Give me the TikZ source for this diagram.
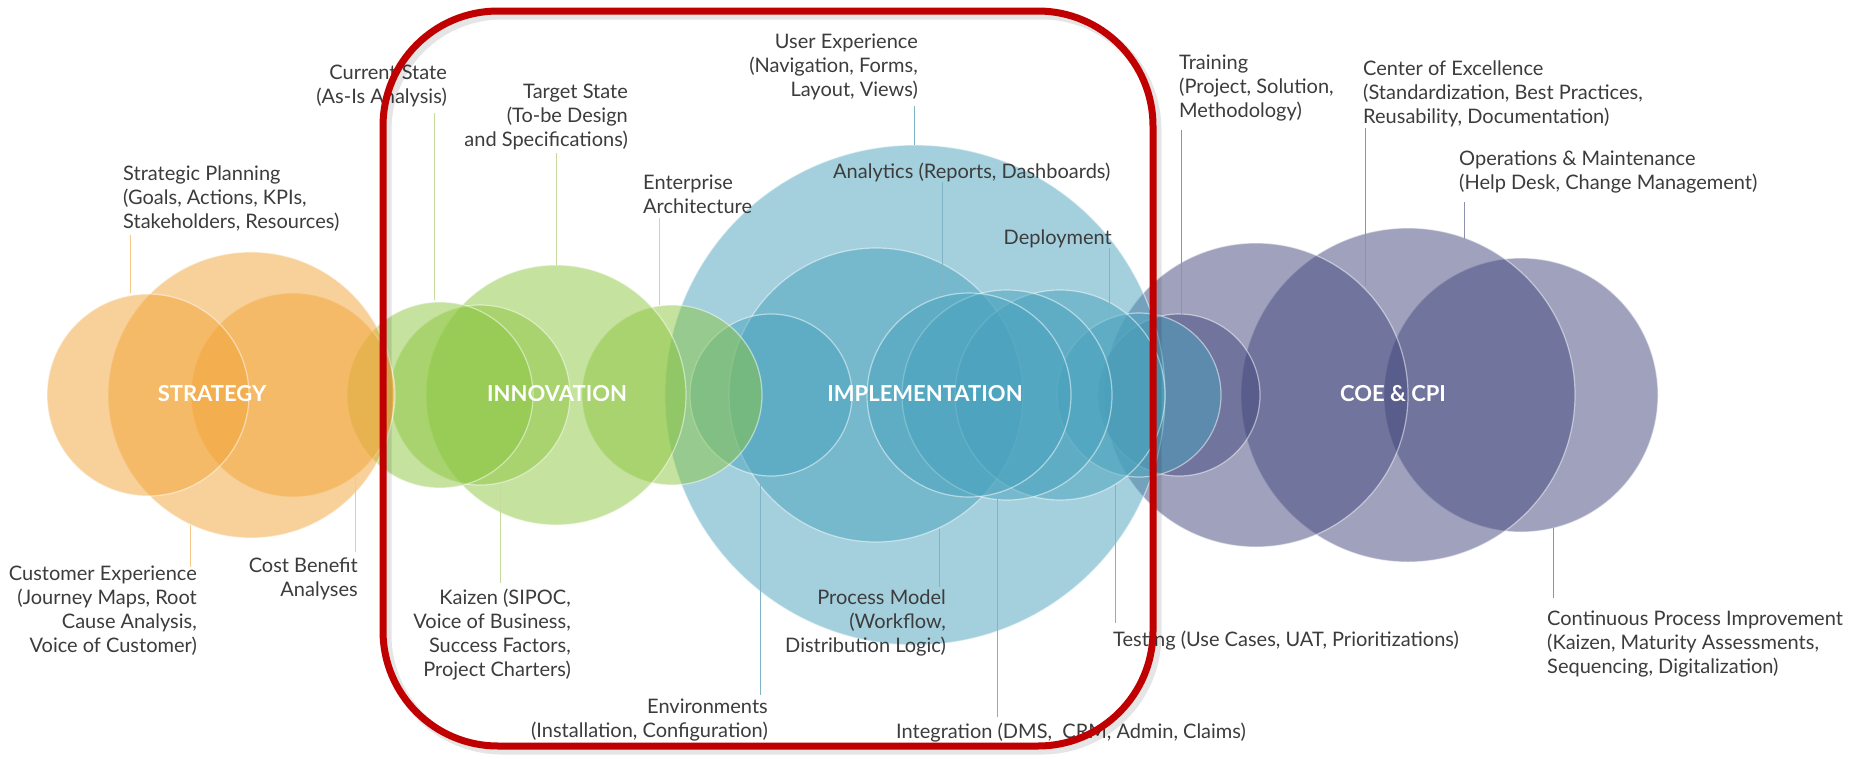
\documentclass[tikz,border=0pt]{standalone}
\usepackage{fontspec}
\setmainfont{Lato}
\definecolor{orng}{HTML}{F3A537}
\definecolor{grn}{HTML}{8CC63F}
\definecolor{blu}{HTML}{4AA3BE}
\definecolor{prp}{HTML}{43477D}
\definecolor{redbox}{HTML}{C00000}
\definecolor{txt}{HTML}{3C3C3C}
\definecolor{lorng}{HTML}{F6C98A}
\definecolor{lgrn}{HTML}{C5DB9E}
\definecolor{lblu}{HTML}{7FB3C6}
\definecolor{lprp}{HTML}{8E90AD}
\begin{document}
\begin{tikzpicture}[x=1pt,y=-1pt,
  bubble/.style={fill opacity=0.5, draw=white, draw opacity=0.5, line width=1.2pt},
  lbl/.style={font=\fontsize{20}{24}\selectfont, text=txt, inner sep=0pt},
  phase/.style={font=\fontsize{22}{26}\selectfont\bfseries, text=white, inner sep=0pt},
  lead/.style={line width=1pt}]
\useasboundingbox[fill=white] (0,0) rectangle (1854,758);
% purple group
\path[bubble, fill=prp] (1521,395) circle[radius=137pt];
\path[bubble, fill=prp] (1408,395) circle[radius=167pt];
\path[bubble, fill=prp] (1256,395) circle[radius=152pt];
\path[bubble, fill=prp] (1179,395) circle[radius=81pt];
% blue group
\path[bubble, fill=blu] (915,395) circle[radius=250pt];
\path[bubble, fill=blu] (876,395) circle[radius=147pt];
\path[bubble, fill=blu] (1139,395) circle[radius=82pt];
\path[bubble, fill=blu] (1060,395) circle[radius=105pt];
\path[bubble, fill=blu] (1007,395) circle[radius=105pt];
\path[bubble, fill=blu] (969,395) circle[radius=102pt];
\path[bubble, fill=blu] (771,395) circle[radius=81pt];
% green group
\path[bubble, fill=grn] (672,395) circle[radius=90pt];
\path[bubble, fill=grn] (556,395) circle[radius=130pt];
\path[bubble, fill=grn] (480,395) circle[radius=90pt];
\path[bubble, fill=grn] (440,395) circle[radius=93pt];
% orange group
\path[bubble, fill=orng] (293,395) circle[radius=102pt];
\path[bubble, fill=orng] (251,395) circle[radius=143pt];
\path[bubble, fill=orng] (148,395) circle[radius=101pt];
% phase labels
\node[phase] (strat) at (212,394) {STRATEGY};
\node[phase] (innov) at (557,394) {INNOVATION};
\node[phase] (impl) at (925,394) {IMPLEMENTATION};
\node[phase] (coe) at (1393,394) {COE \& CPI};
% labels
\node[lbl, anchor=north west, align=left] (sp) at (123,166) {Strategic Planning\\(Goals, Actions, KPIs,\\Stakeholders, Resources)};
\node[lbl, anchor=north east, align=right] (cs) at (447,65) {Current State\\(As-Is Analysis)};
\node[lbl, anchor=north east, align=right] (ts) at (628,84) {Target State\\(To-be Design\\and Specifications)};
\node[lbl, anchor=north west, align=left] (ea) at (643,175) {Enterprise\\Architecture};
\node[lbl, anchor=north east, align=right] (ux) at (918,34) {User Experience\\(Navigation, Forms,\\Layout, Views)};
\node[lbl, anchor=north west] (an) at (833,163) {Analytics (Reports, Dashboards)};
\node[lbl, anchor=north east] (dp) at (1112,230) {Deployment};
\node[lbl, anchor=north west, align=left] (tr) at (1179,55) {Training\\(Project, Solution,\\Methodology)};
\node[lbl, anchor=north west, align=left] (ce) at (1363,61) {Center of Excellence\\(Standardization, Best Practices,\\Reusability, Documentation)};
\node[lbl, anchor=north west, align=left] (om) at (1459,151) {Operations \& Maintenance\\(Help Desk, Change Management)};
\node[lbl, anchor=north east, align=right] (cx) at (197,566) {Customer Experience\\(Journey Maps, Root\\Cause Analysis,\\Voice of Customer)};
\node[lbl, anchor=north east, align=right] (cb) at (358,558) {Cost Benefit\\Analyses};
\node[lbl, anchor=north east, align=right] (kz) at (571,589) {Kaizen (SIPOC,\\Voice of Business,\\Success Factors,\\Project Charters)};
\node[lbl, anchor=north east, align=right] (en) at (768,699) {Environments\\(Installation, Configuration)};
\node[lbl, anchor=north east, align=right] (pm) at (946,590) {Process Model\\(Workflow,\\Distribution Logic)};
\node[lbl, anchor=north west] (ig) at (896,723) {Integration (DMS,\ \ CRM, Admin, Claims)};
\node[lbl, anchor=north west] (te) at (1113,631) {Testing (Use Cases, UAT, Prioritizations)};
\node[lbl, anchor=north west, align=left] (cp) at (1547,611) {Continuous Process Improvement\\(Kaizen, Maturity Assessments,\\Sequencing, Digitalization)};
% leader line end points
\coordinate (sp1) at (130,235); \coordinate (sp2) at (130,293);
\coordinate (cx1) at (190,567); \coordinate (cx2) at (190,525);
\coordinate (cb1) at (355,552); \coordinate (cb2) at (355,477);
\coordinate (cs1) at (434,113); \coordinate (cs2) at (434,300);
\coordinate (ts1) at (556,153); \coordinate (ts2) at (556,265);
\coordinate (ea1) at (659,218); \coordinate (ea2) at (659,305);
\coordinate (kz1) at (500,583); \coordinate (kz2) at (500,484);
\coordinate (ux1) at (914,106); \coordinate (ux2) at (914,145);
\coordinate (an1) at (942,182); \coordinate (an2) at (942,296);
\coordinate (dp1) at (1109,248); \coordinate (dp2) at (1109,318);
\coordinate (en1) at (760,695); \coordinate (en2) at (760,476);
\coordinate (pm1) at (939,587); \coordinate (pm2) at (939,529);
\coordinate (ig1) at (997,717); \coordinate (ig2) at (997,497);
\coordinate (te1) at (1115,623); \coordinate (te2) at (1115,485);
\coordinate (tr1) at (1181,130); \coordinate (tr2) at (1181,314);
\coordinate (ce1) at (1365,128); \coordinate (ce2) at (1365,286);
\coordinate (om1) at (1464,202); \coordinate (om2) at (1464,239);
\coordinate (cp1) at (1553,598); \coordinate (cp2) at (1553,528);
\draw[lead, lorng] (sp1) -- (sp2);
\draw[lead, lorng] (cx1) -- (cx2);
\draw[lead, lorng] (cb1) -- (cb2);
\draw[lead, lgrn] (cs1) -- (cs2);
\draw[lead, lgrn] (ts1) -- (ts2);
\draw[lead, lgrn] (ea1) -- (ea2);
\draw[lead, lgrn] (kz1) -- (kz2);
\draw[lead, lblu] (ux1) -- (ux2);
\draw[lead, lblu] (an1) -- (an2);
\draw[lead, lblu] (dp1) -- (dp2);
\draw[lead, lblu] (en1) -- (en2);
\draw[lead, lblu] (pm1) -- (pm2);
\draw[lead, lblu] (ig1) -- (ig2);
\draw[lead, lblu] (te1) -- (te2);
\draw[lead, lprp] (tr1) -- (tr2);
\draw[lead, lprp] (ce1) -- (ce2);
\draw[lead, lprp] (om1) -- (om2);
\draw[lead, lprp] (cp1) -- (cp2);
% red frame with soft shadow
\draw[black, opacity=0.10, line width=9pt, rounded corners=115pt] (387,15) rectangle (1157,750);
\draw[redbox, line width=7pt, rounded corners=115pt] (383,11) rectangle (1153,746);
\end{tikzpicture}
\end{document}
